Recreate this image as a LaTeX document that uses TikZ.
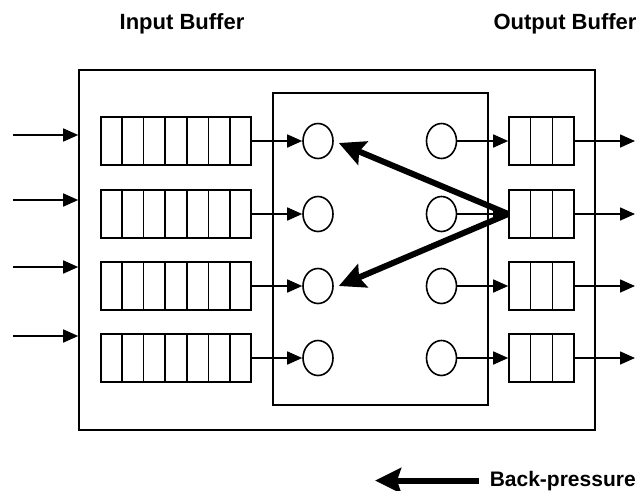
\documentclass[tikz,border=0pt]{standalone}
\usepackage{fontspec}
\setmainfont{Liberation Sans}
\usepackage{tikz}
\usetikzlibrary{arrows.meta,positioning,shapes.geometric,calc}

\begin{document}
\begin{tikzpicture}[x=1pt,y=-1pt,line width=1.6pt,
    buf/.style={draw,inner sep=0pt,minimum height=48pt},
    port/.style={draw,ellipse,inner sep=0pt,minimum width=30pt,minimum height=35pt},
    flow/.style={-{Triangle[length=15pt,width=13pt]}},
    back/.style={line width=6pt,-{Stealth[length=26pt,width=25pt,inset=4pt]}},
    lbl/.style={inner sep=0pt,font=\bfseries\fontsize{22}{24}\selectfont}]

        \useasboundingbox (0,0) rectangle (642,490);

        % switch and crossbar
        \node[draw,minimum width=516pt,minimum height=360pt] (outer) at (337,250) {};
        \node[draw,minimum width=215pt,minimum height=312pt] (inner) at (380.5,249) {};

        % buffers and ports, one row each
        \foreach \r/\y in {1/141,2/214,3/286,4/358} {
          \node[buf,minimum width=150pt] (ib\r) at (176,\y) {};
          \node[buf,minimum width=65pt] (ob\r) at (541.5,\y) {};
          \node[port] (a\r) at (318,\y) {};
          \node[port] (b\r) at (441.5,\y) {};
          \foreach \k in {1,...,6}
            \draw ($(ib\r.south west)!\k/7!(ib\r.south east)$) -- ($(ib\r.north west)!\k/7!(ib\r.north east)$);
          \foreach \k in {1,2}
            \draw ($(ob\r.south west)!\k/3!(ob\r.south east)$) -- ($(ob\r.north west)!\k/3!(ob\r.north east)$);
          \draw[flow] (ib\r.east) -- (a\r.west);
          \draw[flow] (b\r.east) -- (ob\r.west);
          \coordinate (t\r) at (635,\y);
          \draw[flow] (ob\r.east) -- (t\r);
        }

        % incoming links
        \foreach \r/\y in {1/135,2/200,3/267,4/336} {
          \coordinate (s\r) at (13,\y);
          \draw[flow] (s\r) -- (s\r -| outer.west);
        }

        % back-pressure from the second output
        \draw[back] (ob2.west) -- ([xshift=5pt,yshift=-2pt]a1.east);
        \draw[back] (ob2.west) -- ([xshift=5pt]a3.east);

        \node[lbl,anchor=base] (intitle) at (182,29) {Input Buffer};
        \node[lbl,anchor=base] (outtitle) at (565,29) {Output Buffer};

        \node[lbl,anchor=base west,font=\bfseries\fontsize{21}{23}\selectfont] (bplabel) at (489,486) {Back-pressure};
        \draw[back] ([xshift=-10pt]bplabel.west) -- ++(-104,0);

      \end{tikzpicture}
\end{document}
